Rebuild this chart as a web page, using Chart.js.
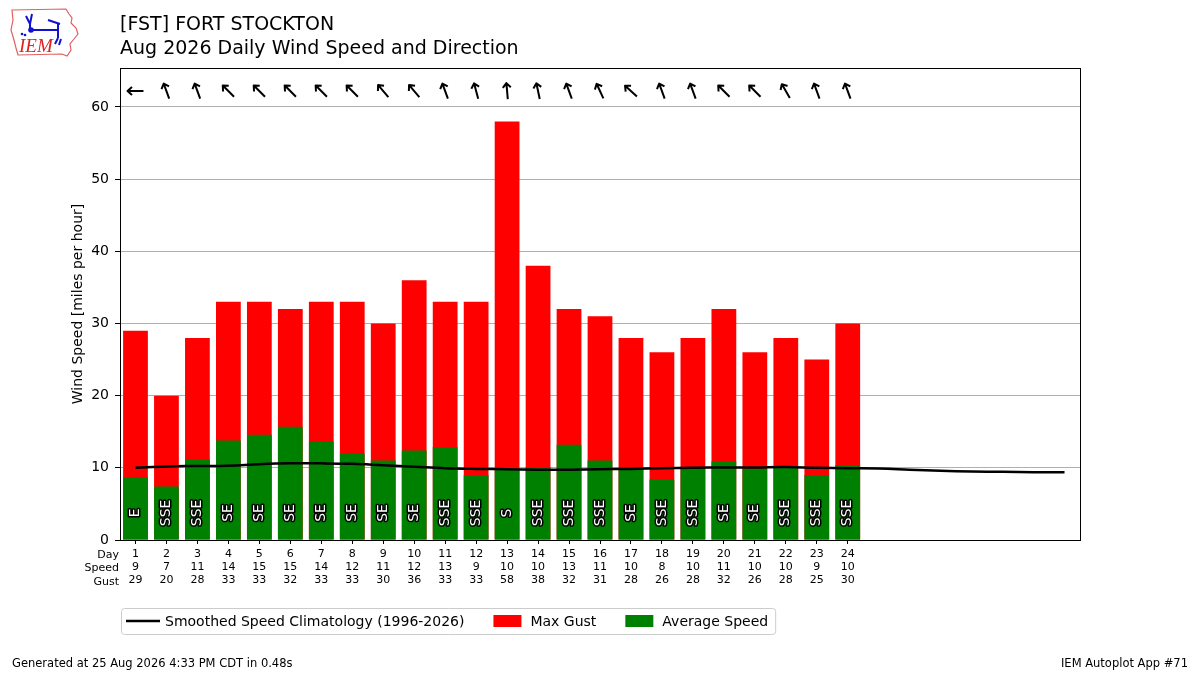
<!DOCTYPE html>
<html>
<head>
<meta charset="utf-8">
<script src="https://cdn.jsdelivr.net/npm/chart.js@4"></script>
<style>
  body { margin: 0; background: #fff; font-family: "DejaVu Sans", sans-serif; }
  #wrap { position: relative; width: 1200px; height: 675px; }
  #c { position: absolute; left: 0; top: 0; }
  .t { position: absolute; left: 120px; font-size: 19px; color: #000; white-space: nowrap; }
  .foot { position: absolute; top: 656px; font-size: 11.5px; color: #000; }
  #logo { position: absolute; left: 8px; top: 6px; }
</style>
</head>
<body>
<div id="wrap">
  <canvas id="c" width="1200" height="675"></canvas>
  <svg id="logo" width="74" height="54" viewBox="0 0 74 54">
    <path d="M4 4 L58 3 L61 8 L64 12 L63 17 L68 22 L70 28 L66 33 L62 38 L63 44 L59 50 L54 48 L10 49 L8 42 L6 34 L3 24 L5 14 Z"
          fill="none" stroke="#e06060" stroke-width="1.2"/>
    <path d="M22 24 L50 24 M50 18 L50 32 M22 24 L22 18 M18 10 L22 18 L24 8 M40 14 L52 18 M50 32 L47 38 M53 33 L51 39"
          stroke="#1010d0" stroke-width="2" fill="none"/>
    <circle cx="23" cy="24" r="2.8" fill="#1010d0"/>
    <circle cx="14" cy="28" r="1.3" fill="#1010d0"/>
    <circle cx="17" cy="29" r="1.3" fill="#1010d0"/>
    <text x="11" y="46" font-family="Liberation Serif, serif" font-style="italic" font-size="19" fill="#dd2222">IEM</text>
  </svg>
  <div class="t" style="top:12px">[FST] FORT STOCKTON</div>
  <div class="t" style="top:36px">Aug 2026 Daily Wind Speed and Direction</div>
  <div class="foot" style="left:12px">Generated at 25 Aug 2026 4:33 PM CDT in 0.48s</div>
  <div class="foot" style="right:12px">IEM Autoplot App #71</div>
</div>
<script>
// days of the month shown on the axis
const days = [];
for (let d = 1; d <= 31; d++) days.push(String(d));

// observed values, days 1-24
const avgSpeed = [8.7, 7.4, 11.2, 13.8, 14.6, 15.7, 13.7, 12.0, 11.0, 12.4, 12.9, 9.0,
                  9.8, 10.1, 13.2, 11.0, 9.9, 8.4, 10.0, 10.9, 9.9, 10.1, 9.0, 10.4];
const maxGust = [29, 20, 28, 33, 33, 32, 33, 33, 30, 36, 33, 33,
                 58, 38, 32, 31, 28, 26, 28, 32, 26, 28, 25, 30];
const speedLabels = [9, 7, 11, 14, 15, 15, 14, 12, 11, 12, 13, 9,
                     10, 10, 13, 11, 10, 8, 10, 11, 10, 10, 9, 10];
const dirLabels = ['E', 'SSE', 'SSE', 'SE', 'SE', 'SE', 'SE', 'SE', 'SE', 'SE', 'SSE', 'SSE',
                   'S', 'SSE', 'SSE', 'SSE', 'SE', 'SSE', 'SSE', 'SE', 'SE', 'SSE', 'SSE', 'SSE'];
// direction the arrow points (deg clockwise from north)
const arrowDeg = [270, 340, 340, 315, 315, 315, 315, 315, 320, 320, 340, 345,
                  355, 348, 340, 335, 312, 340, 340, 315, 315, 330, 340, 340];
// smoothed climatology, days 1-31
const climo = [10.0, 10.2, 10.25, 10.3, 10.5, 10.62, 10.62, 10.55, 10.35, 10.15, 9.95, 9.85,
               9.8, 9.75, 9.75, 9.8, 9.85, 9.95, 10.0, 10.05, 10.05, 10.1, 10.0, 9.95,
               9.9, 9.75, 9.6, 9.5, 9.45, 9.4, 9.4];

const FONT = '"DejaVu Sans", sans-serif';

const extras = {
  id: 'extras',
  afterDatasetsDraw(chart) {
    const { ctx, scales: { x, y } } = chart;
    ctx.save();
    // direction text inside the green bars
    ctx.font = '14px ' + FONT;
    ctx.textAlign = 'center';
    ctx.textBaseline = 'middle';
    ctx.lineJoin = 'round';
    dirLabels.forEach((t, i) => {
      ctx.save();
      ctx.translate(x.getPixelForValue(i), y.getPixelForValue(3.75));
      ctx.rotate(-Math.PI / 2);
      ctx.lineWidth = 3;
      ctx.strokeStyle = '#000';
      ctx.strokeText(t, 0, 0);
      ctx.fillStyle = '#fff';
      ctx.fillText(t, 0, 0);
      ctx.restore();
    });
    // arrows along the top
    ctx.strokeStyle = '#000';
    ctx.lineWidth = 2;
    ctx.lineCap = 'butt';
    arrowDeg.forEach((deg, i) => {
      ctx.save();
      ctx.translate(x.getPixelForValue(i), y.getPixelForValue(62.2));
      ctx.rotate(deg * Math.PI / 180);
      ctx.beginPath();
      ctx.moveTo(0, 8);
      ctx.lineTo(0, -7.5);
      ctx.moveTo(-4, -3.5);
      ctx.lineTo(0, -8);
      ctx.lineTo(4, -3.5);
      ctx.stroke();
      ctx.restore();
    });
    ctx.restore();
  },
  afterDraw(chart) {
    const { ctx, chartArea: a } = chart;
    ctx.save();
    // plot frame
    ctx.strokeStyle = '#000';
    ctx.lineWidth = 1;
    ctx.strokeRect(a.left + 0.5, a.top + 0.5, a.right - a.left, a.bottom - a.top);
    // row names for the x tick labels
    ctx.font = '11px ' + FONT;
    ctx.fillStyle = '#000';
    ctx.textAlign = 'right';
    ctx.textBaseline = 'middle';
    ['Day', 'Speed', 'Gust'].forEach((t, i) => ctx.fillText(t, a.left - 1, a.bottom + 15 + i * 13.4));
    // legend
    const ds = chart.data.datasets;
    ctx.font = '14px ' + FONT;
    ctx.textAlign = 'left';
    const ly = a.bottom + 81;
    let lx = a.left + 6;
    const start = lx - 5;
    const items = [];
    ds.forEach(d => {
      items.push({ d, x: lx });
      lx += 39 + ctx.measureText(d.label).width + 27;
    });
    const end = lx - 27 + 7;
    ctx.strokeStyle = '#cccccc';
    ctx.fillStyle = 'rgba(255,255,255,0.8)';
    ctx.beginPath();
    ctx.roundRect(start + 0.5, ly - 12.5, end - start, 26, 3);
    ctx.fill();
    ctx.stroke();
    items.forEach(({ d, x: ix }) => {
      if (d.type === 'line') {
        ctx.strokeStyle = d.borderColor;
        ctx.lineWidth = 2.5;
        ctx.beginPath();
        ctx.moveTo(ix, ly);
        ctx.lineTo(ix + 34, ly);
        ctx.stroke();
      } else {
        ctx.fillStyle = d.backgroundColor;
        ctx.fillRect(ix + 2, ly - 6, 28, 12);
      }
      ctx.fillStyle = '#000';
      ctx.fillText(d.label, ix + 39, ly + 1);
    });
    ctx.restore();
  }
};

new Chart(document.getElementById('c'), {
  type: 'bar',
  data: {
    labels: days,
    datasets: [
      { type: 'line', label: 'Smoothed Speed Climatology (1996-2026)', data: climo,
        borderColor: '#000', borderWidth: 2.5, pointRadius: 0, tension: 0.4, order: 0 },
      { label: 'Max Gust', data: maxGust, backgroundColor: '#ff0000', order: 2,
        barPercentage: 0.8, categoryPercentage: 1.0 },
      { label: 'Average Speed', data: avgSpeed, backgroundColor: '#008000', order: 1,
        barPercentage: 0.8, categoryPercentage: 1.0 }
    ]
  },
  options: {
    responsive: false,
    animation: false,
    layout: { padding: { left: 66, right: 120, top: 68, bottom: 85 } },
    plugins: { legend: { display: false }, tooltip: { enabled: false } },
    scales: {
      x: {
        stacked: true,
        afterFit(s) { s.height = 50; },
        border: { display: false },
        grid: {
          drawOnChartArea: false, offset: false, tickLength: 4,
          tickColor: c => (c.index < maxGust.length ? '#000' : 'rgba(0,0,0,0)')
        },
        ticks: {
          autoSkip: false, maxRotation: 0, padding: 3, color: '#000',
          font: { family: FONT, size: 11, lineHeight: 1.22 },
          callback: (v, i) => (i < maxGust.length ? [days[i], String(speedLabels[i]), String(maxGust[i])] : '')
        }
      },
      y: {
        stacked: false,
        min: 0, max: 65.4,
        afterFit(s) { s.width = 54; },
        afterBuildTicks(s) { s.ticks = s.ticks.filter(t => t.value % 10 === 0); },
        border: { display: false },
        grid: { color: '#b0b0b0', tickColor: '#000', tickLength: 5, lineWidth: 1 },
        ticks: { stepSize: 10, padding: 6, color: '#000', font: { family: FONT, size: 14 } },
        title: { display: true, text: 'Wind Speed [miles per hour]', color: '#000',
                 font: { family: FONT, size: 14 }, padding: { top: 4, bottom: 4 } }
      }
    }
  },
  plugins: [extras]
});
</script>
</body>
</html>
